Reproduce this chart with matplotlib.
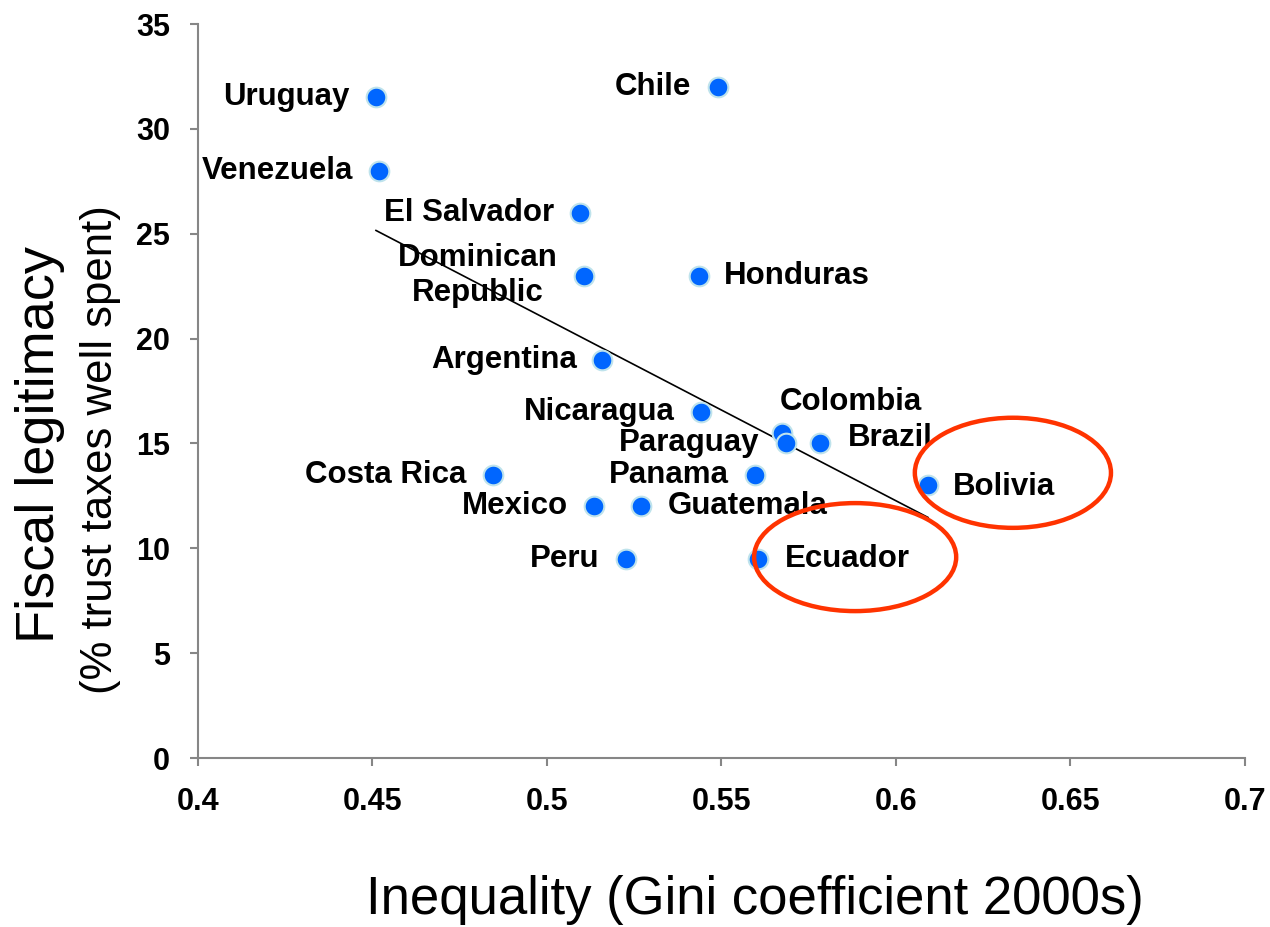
import numpy as np
import matplotlib.pyplot as plt
from matplotlib.patches import Ellipse

plt.rcParams['font.family'] = ['Liberation Sans', 'DejaVu Sans']

# data
countries = ['Uruguay', 'Chile', 'Venezuela', 'El Salvador', 'Dominican\nRepublic',
             'Honduras', 'Argentina', 'Nicaragua', 'Colombia', 'Paraguay', 'Brazil',
             'Costa Rica', 'Panama', 'Bolivia', 'Mexico', 'Guatemala', 'Peru', 'Ecuador']
gini = [0.451, 0.549, 0.452, 0.5095, 0.5106, 0.5436, 0.5158, 0.5441, 0.5673, 0.5685,
        0.5782, 0.4845, 0.5596, 0.6092, 0.5135, 0.5269, 0.5226, 0.5605]
trust = [31.5, 32.0, 28.0, 26.0, 23.0, 23.0, 19.0, 16.5, 15.5, 15.0, 15.0, 13.5,
         13.5, 13.0, 12.0, 12.0, 9.5, 9.5]
# label offsets in points (dx, dy) and alignment
offsets = [(-19, 0, 'right'), (-19, 0, 'right'), (-19, 0, 'right'), (-19, 0, 'right'),
           (-19, 0, 'right'), (18, 0, 'left'), (-18, 0, 'right'), (-19, 0, 'right'),
           (50, 22, 'center'), (-19, 0, 'right'), (20, 4, 'left'), (-19, 0, 'right'),
           (-19, 0, 'right'), (18, -1, 'left'), (-19, 0, 'right'), (19, 0, 'left'),
           (-19, 0, 'right'), (19, 0, 'left')]

# circled cases: (center x, center y, width, height)
circled = [(0.6335, 13.6, 0.0562, 5.25), (0.5883, 9.58, 0.0579, 5.15)]

fig = plt.figure(figsize=(12.7, 9.27), dpi=100)
ax = fig.add_axes([0.1559, 0.1823, 0.8244, 0.7918])

x = np.array(gini)
y = np.array(trust)

# OLS trend line across the observed range
k, b = np.polyfit(x, y, 1)
xs = np.array([x.min(), x.max()])
ax.plot(xs, k * xs + b, color='black', lw=1.2, zorder=2)

ax.scatter(x, y, s=200, color='#0066FF', edgecolors='#BFE3EC', linewidths=1.5, zorder=3)

for name, xi, yi, (dx, dy, ha) in zip(countries, gini, trust, offsets):
    ax.annotate(name, (xi, yi), xytext=(dx, dy), textcoords='offset points',
                ha=ha, va='center', fontsize=22.5, fontweight='bold',
                multialignment='center', linespacing=1.2, zorder=4)

for cx, cy, w, h in circled:
    ax.add_patch(Ellipse((cx, cy), w, h, fill=False, edgecolor='#FF3300', lw=3.2, zorder=5))

ax.set_xlim(0.4, 0.7)
ax.set_ylim(0, 35)
ax.set_xticks([0.4, 0.45, 0.5, 0.55, 0.6, 0.65, 0.7])
ax.set_xticklabels(['0.4', '0.45', '0.5', '0.55', '0.6', '0.65', '0.7'])
ax.set_yticks(range(0, 36, 5))

for s in ['top', 'right']:
    ax.spines[s].set_visible(False)
for s in ['left', 'bottom']:
    ax.spines[s].set_color('#868686')
    ax.spines[s].set_linewidth(1.5)

ax.tick_params(axis='both', direction='out', length=6, width=1.5, color='#868686',
               labelsize=22)
ax.tick_params(axis='y', pad=14)
ax.tick_params(axis='x', pad=15)
for lbl in ax.get_xticklabels() + ax.get_yticklabels():
    lbl.set_fontweight('bold')

fig.text(0.0315, 0.52, 'Fiscal legitimacy', rotation=90, ha='center', va='center',
         fontsize=39)
fig.text(0.079, 0.515, '(% trust taxes well spent)', rotation=90, ha='center',
         va='center', fontsize=31.5)
fig.text(0.594, 0.029, 'Inequality (Gini coefficient 2000s)', ha='center',
         va='center', fontsize=38)

fig.savefig('out.png', dpi=100)
